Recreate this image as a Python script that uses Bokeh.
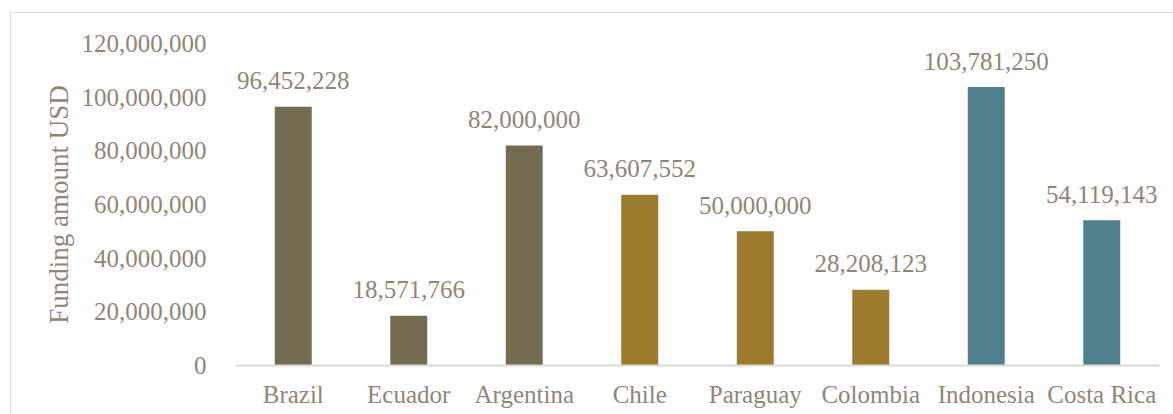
from bokeh.plotting import figure
from bokeh.models import ColumnDataSource, FactorRange, Range1d, NumeralTickFormatter, FixedTicker
from bokeh.core.properties import value
from bokeh.embed import file_html
from bokeh.resources import INLINE

countries = ["Brazil", "Ecuador", "Argentina", "Chile", "Paraguay", "Colombia", "Indonesia", "Costa Rica"]
amounts = [96452228, 18571766, 82000000, 63607552, 50000000, 28208123, 103781250, 54119143]
colors = ["#736C50", "#736C50", "#736C50", "#9D7B2E", "#9D7B2E", "#9D7B2E", "#50808C", "#50808C"]
y_ticks = [0, 20000000, 40000000, 60000000, 80000000, 100000000, 120000000]

labels = [f"{v:,}" for v in amounts]
src = ColumnDataSource(dict(x=countries, y=amounts, c=colors, lab=labels))

FONT = "Liberation Serif"
TXT = "#918575"
FS = "25px"

p = figure(x_range=FactorRange(*countries, range_padding=0),
           y_range=Range1d(0, 120000000),
           width=1163, height=402, output_backend="svg", toolbar_location=None,
           min_border_left=224, min_border_right=15, min_border_top=30, min_border_bottom=50,
           margin=(12, 0, 0, 10),
           styles={"border-top": "1px solid #DCDAD5", "border-left": "1px solid #DCDAD5",
                   "box-sizing": "border-box"})
p.outline_line_color = None
p.grid.visible = False

p.vbar(x="x", top="y", width=0.32, color="c", source=src, line_color=None)
p.text(x="x", y="y", text="lab", source=src, text_align="center", text_baseline="alphabetic",
       y_offset=-26, text_font=value(FONT), text_font_size=FS, text_color=TXT)

ya = p.yaxis[0]
ya.ticker = FixedTicker(ticks=y_ticks)
ya.formatter = NumeralTickFormatter(format="0,0")
ya.axis_line_color = None
ya.major_tick_line_color = None
ya.minor_tick_line_color = None
ya.major_label_standoff = 23
ya.major_label_text_font = FONT
ya.major_label_text_font_size = FS
ya.major_label_text_color = TXT
ya.axis_label = "Funding amount USD"
ya.axis_label_text_font = FONT
ya.axis_label_text_font_size = "27px"
ya.axis_label_text_font_style = "normal"
ya.axis_label_text_color = TXT
ya.axis_label_standoff = 5

xa = p.xaxis[0]
xa.axis_line_color = "#DCDAD5"
xa.axis_line_width = 2
xa.major_tick_line_color = None
xa.minor_tick_line_color = None
xa.major_label_standoff = 9
xa.major_label_text_font = FONT
xa.major_label_text_font_size = FS
xa.major_label_text_color = TXT

open("out.html", "w").write(file_html(p, INLINE))
